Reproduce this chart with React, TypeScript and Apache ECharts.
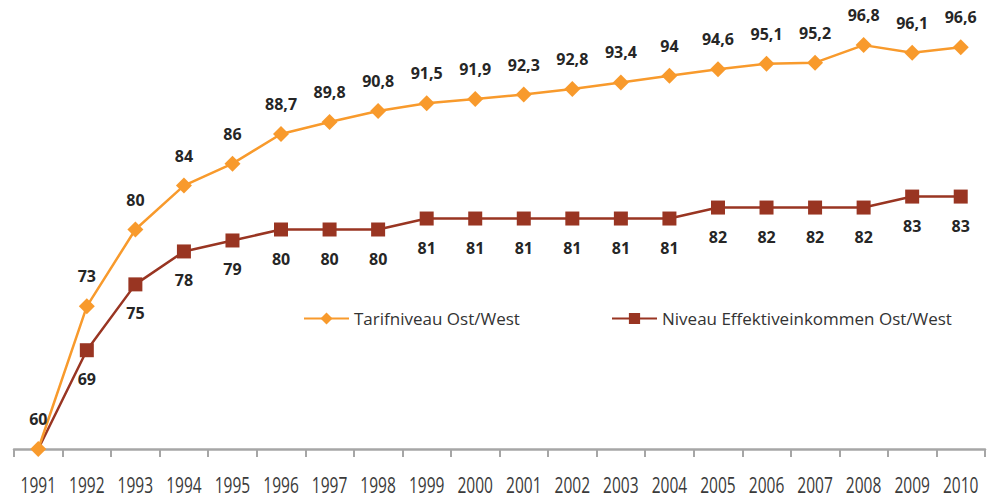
import React, { useEffect, useRef } from "react";
import * as echarts from "echarts";

const years = ["1991","1992","1993","1994","1995","1996","1997","1998","1999","2000","2001","2002","2003","2004","2005","2006","2007","2008","2009","2010"];
const tarif = [60,73,80,84,86,88.7,89.8,90.8,91.5,91.9,92.3,92.8,93.4,94,94.6,95.1,95.2,96.8,96.1,96.6];
const effektiv = [60,69,75,78,79,80,80,80,81,81,81,81,81,81,82,82,82,82,83,83];
const seriesNames = ["Tarifniveau Ost/West", "Niveau Effektiveinkommen Ost/West"];

const fmt = (v: number) => String(v).replace(".", ",");

export default function App() {
  const ref = useRef<HTMLDivElement>(null);
  useEffect(() => {
    if (!ref.current) return;
    const chart = echarts.init(ref.current, undefined, { renderer: "svg" });
    const labelFont = "'Open Sans', 'Noto Sans', sans-serif";
    const orange = "#F89A2C";
    const brown = "#993522";
    chart.setOption({
      animation: false,
      grid: { left: 14, right: 2, top: 10, bottom: 48 },
      legend: [
        {
          data: [seriesNames[0]], left: 298, top: 305, itemWidth: 45, itemHeight: 15, itemGap: 6,
          textStyle: { fontFamily: labelFont, fontSize: 17, color: "#333" },
        },
        {
          data: [seriesNames[1]], left: 606, top: 305, itemWidth: 45, itemHeight: 14, itemGap: 6,
          textStyle: { fontFamily: labelFont, fontSize: 17, color: "#333" },
        },
      ],
      xAxis: {
        type: "category",
        data: years,
        boundaryGap: true,
        axisLine: { lineStyle: { color: "#A6A6A6", width: 2.5 } },
        axisTick: { show: true, alignWithLabel: false, length: 8, lineStyle: { color: "#A6A6A6", width: 2 } },
        axisLabel: { show: false },
      },
      yAxis: {
        type: "value", min: 60, max: 100, show: false, splitLine: { show: false },
      },
      series: [
        {
          name: seriesNames[1], type: "line",
          data: effektiv.map((v, i) => (i === 0 ? { value: v, symbol: "none" } : v)),
          symbol: "rect", symbolSize: 14,
          itemStyle: { color: brown },
          lineStyle: { color: brown, width: 2.5 },
          label: {
            show: true, position: "bottom", distance: 14,
            fontFamily: labelFont, fontWeight: "bold", fontSize: 16, color: "#262626",
            formatter: (p: any) => (p.dataIndex === 0 ? "" : fmt(p.value)),
          },
          z: 2,
        },
        {
          name: seriesNames[0], type: "line", data: tarif,
          symbol: "diamond", symbolSize: 16,
          itemStyle: { color: orange },
          lineStyle: { color: orange, width: 2.5 },
          label: {
            show: true, position: "top", distance: 14,
            fontFamily: labelFont, fontWeight: "bold", fontSize: 16, color: "#262626",
            formatter: (p: any) => fmt(p.value),
          },
          z: 3,
        },
      ],
    });
    const baseY = chart.convertToPixel({ yAxisIndex: 0 }, 60) as number;
    const graphic = years.map((y) => {
      const x = chart.convertToPixel({ xAxisIndex: 0 }, y) as number;
      return {
        type: "text",
        x,
        y: baseY + 35,
        scaleX: 0.74,
        silent: true,
        style: {
          text: y,
          fontFamily: labelFont,
          fontSize: 21,
          fill: "#3a3a3a",
          align: "center",
          verticalAlign: "middle",
        },
      };
    });
    chart.setOption({ graphic });
    return () => chart.dispose();
  }, []);
  return <div ref={ref} style={{ position: "absolute", left: 0, top: 0, width: 987, height: 497 }} />;
}
